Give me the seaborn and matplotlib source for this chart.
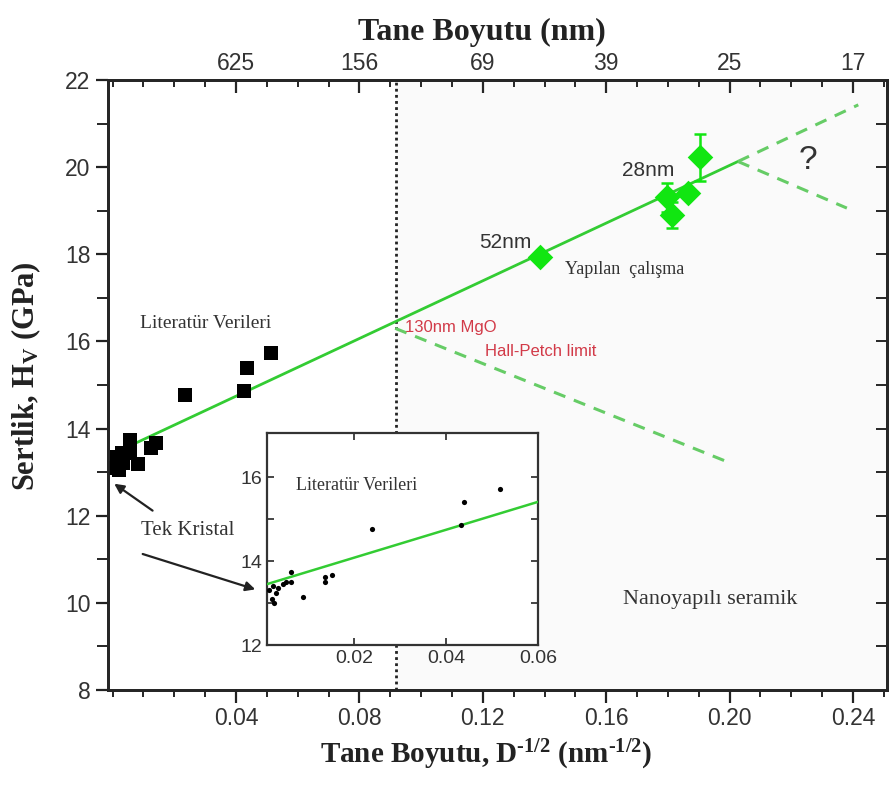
import numpy as np
import pandas as pd
import matplotlib
matplotlib.use("Agg")
import matplotlib.pyplot as plt
import seaborn as sns

# ---------------- data ----------------
# literature data (black squares), x = D^-1/2 (nm^-1/2), y = hardness (GPa)
lit_x = [0.0010, 0.0015, 0.0020, 0.0025, 0.0030, 0.0035, 0.0045, 0.0057, 0.0058,
         0.0083, 0.0125, 0.0140, 0.0235, 0.0426, 0.0436, 0.0514]
lit_y = [13.10, 13.35, 13.05, 13.25, 13.45, 13.20, 13.45, 13.74, 13.50,
         13.18, 13.55, 13.68, 14.77, 14.86, 15.39, 15.73]

# inset literature data
ins_x = [0.0015, 0.0020, 0.0022, 0.0025, 0.0030, 0.0035, 0.0045, 0.0052, 0.0063,
         0.0063, 0.0089, 0.0137, 0.0137, 0.0152, 0.0239, 0.0433, 0.0439, 0.0517]
ins_y = [13.30, 13.10, 13.40, 13.00, 13.25, 13.35, 13.45, 13.50, 13.50,
         13.74, 13.15, 13.50, 13.62, 13.67, 14.76, 14.86, 15.41, 15.72]

# this work (green diamonds)
work_x = [0.1386, 0.1797, 0.1813, 0.1866, 0.1904]
work_y = [17.94, 19.31, 18.90, 19.41, 20.23]
work_err = [0.00, 0.33, 0.30, 0.12, 0.54]

# Hall-Petch fit line
fit_x = [0.0079, 0.2027]
fit_y = [13.68, 20.13]
# dashed extrapolations
up_x = [0.2027, 0.2417]
up_y = [20.13, 21.43]
down_x = [0.2027, 0.2380]
down_y = [20.13, 19.06]
hp_x = [0.0916, 0.1995]
hp_y = [16.30, 13.23]
# inset fit line
ins_fit_x = [0.001, 0.060]
ins_fit_y = [13.45, 15.41]

limit_x = 0.092

bottom_ticks = [0.04, 0.08, 0.12, 0.16, 0.20, 0.24]
bottom_labels = ["0.04", "0.08", "0.12", "0.16", "0.20", "0.24"]
top_labels = ["625", "156", "69", "39", "25", "17"]
y_ticks = [8, 10, 12, 14, 16, 18, 20, 22]
inset_xticks = [0.02, 0.04, 0.06]
inset_xlabels = ["0.02", "0.04", "0.06"]
inset_yticks = [12, 14, 16]

# ---------------- style ----------------
sns.set_style("ticks")
plt.rcParams['font.family'] = ['Liberation Sans', 'DejaVu Sans']
plt.rcParams['mathtext.fontset'] = 'custom'
plt.rcParams['mathtext.rm'] = 'Liberation Serif:bold'
plt.rcParams['mathtext.bf'] = 'Liberation Serif:bold'
plt.rcParams['mathtext.it'] = 'Liberation Serif:bold'

GREEN_LINE = '#33cc33'
GREEN_DASH = '#66cc66'
GREEN_PT = '#11e611'
TXT = '#333333'
RED = '#d23a48'
SERIF = 'Liberation Serif'

fig = plt.figure(figsize=(8.9, 7.89), dpi=100)
ax = fig.add_axes([0.1213, 0.1255, 0.8753, 0.7731])
ax.set_facecolor('white')

ax.axvspan(limit_x, 0.251, color='#fafafa', zorder=0, lw=0)
ax.axvline(limit_x, color='#222222', ls=(0, (1, 1.2)), lw=2, zorder=1)

sns.lineplot(x=fit_x, y=fit_y, ax=ax, color=GREEN_LINE, lw=2.0, zorder=3)
for xs, ys in [(up_x, up_y), (down_x, down_y), (hp_x, hp_y)]:
    sns.lineplot(x=xs, y=ys, ax=ax, color=GREEN_DASH, lw=2.2, ls=(0, (4, 3)), zorder=3)

sns.scatterplot(x=lit_x, y=lit_y, ax=ax, marker='s', s=100, color='black',
                edgecolor='black', linewidth=0, zorder=4)
ax.errorbar(work_x, work_y, yerr=work_err, fmt='none', ecolor=GREEN_PT,
            elinewidth=1.8, capsize=4, capthick=1.8, zorder=4)
sns.scatterplot(x=work_x, y=work_y, ax=ax, marker='D', s=170, color=GREEN_PT,
                edgecolor=GREEN_PT, linewidth=0, zorder=5)

ax.set_xlim(-0.0015, 0.251)
ax.set_ylim(8, 22)
ax.set_xticks(bottom_ticks)
ax.set_xticklabels(bottom_labels)
ax.set_xticks(np.arange(0.0, 0.251, 0.01), minor=True)
ax.set_yticks(y_ticks)
ax.set_yticks(np.arange(9, 22, 2), minor=True)
ax.tick_params(axis='both', which='major', direction='out', length=9, width=1.6,
               labelsize=16.5, colors='#222222', labelcolor='#333333')
ax.tick_params(axis='both', which='minor', direction='out', length=5, width=1.4)
ax.tick_params(axis='y', which='minor', length=8)
for s in ax.spines.values():
    s.set_linewidth(2)
    s.set_color('#222222')

ax.set_xlabel(r'Tane Boyutu, D$^{\text{-1/2}}$ (nm$^{\text{-1/2}}$)', family=SERIF,
              fontweight='bold', fontsize=21, color='#222222')
ax.xaxis.set_label_coords(0.485, -0.078)
ax.set_ylabel(r'Sertlik, H$_{V}$ (GPa)', family=SERIF, fontweight='bold',
              fontsize=22, color='#222222')
ax.yaxis.set_label_coords(-0.083, 0.515)

# top axis
axt = ax.twiny()
axt.set_xlim(ax.get_xlim())
axt.set_xticks(bottom_ticks)
axt.set_xticklabels(top_labels)
axt.set_xticks(np.arange(0.0, 0.251, 0.01), minor=True)
axt.tick_params(axis='x', which='major', direction='in', length=9, width=1.6,
                labelsize=16.5, labelcolor='#333333')
axt.tick_params(axis='x', which='minor', direction='in', length=5, width=1.4)
axt.set_xlabel('Tane Boyutu (nm)', family=SERIF, fontweight='bold', fontsize=23,
               color='#222222')
axt.xaxis.set_label_coords(0.48, 1.066)
for s in axt.spines.values():
    s.set_linewidth(2)

# right ticks inward
axr = ax.twinx()
axr.set_ylim(ax.get_ylim())
axr.set_yticks(y_ticks)
axr.set_yticks(np.arange(9, 22, 2), minor=True)
axr.tick_params(axis='y', which='both', direction='in', length=8, width=1.4,
                labelright=False)

# annotations
ax.text(0.1736, 19.93, '28nm', ha='center', va='center', fontsize=15, color=TXT)
ax.text(0.1272, 18.26, '52nm', ha='center', va='center', fontsize=15, color=TXT)
ax.text(0.166, 17.64, 'Yapılan  çalışma', ha='center', va='center', fontsize=13,
        family=SERIF, color=TXT)
ax.text(0.030, 16.42, 'Literatür Verileri', ha='center', va='center', fontsize=14,
        family=SERIF, color=TXT)
ax.text(0.0948, 16.33, '130nm MgO', ha='left', va='center', fontsize=12, color=RED)
ax.text(0.1207, 15.76, 'Hall-Petch limit', ha='left', va='center', fontsize=12, color=RED)
ax.text(0.2254, 20.16, '?', ha='center', va='center', fontsize=24, color=TXT)
ax.text(0.1937, 10.07, 'Nanoyapılı seramik', ha='center', va='center', fontsize=16,
        family=SERIF, color=TXT)
ax.text(0.0245, 11.67, 'Tek Kristal', ha='center', va='center', fontsize=15,
        family=SERIF, color=TXT)
ax.annotate('', xy=(-0.0002, 12.77), xytext=(0.0137, 12.08),
            arrowprops=dict(arrowstyle='-|>', color='#222222', lw=1.6, mutation_scale=14))
ax.annotate('', xy=(0.0471, 10.29), xytext=(0.0089, 11.14),
            arrowprops=dict(arrowstyle='-|>', color='#222222', lw=1.6, mutation_scale=14))
ax.text(0.0705, 13.71, '2.5µm', ha='center', va='center', fontsize=13, color=TXT)
ax.text(0.0980, 13.71, '625nm', ha='center', va='center', fontsize=13, color=TXT)
ax.text(0.1262, 13.71, '278nm', ha='center', va='center', fontsize=13, color=TXT)

# inset
axi = fig.add_axes([0.300, 0.1825, 0.3045, 0.2687])
axi.set_facecolor('white')
sns.lineplot(x=ins_fit_x, y=ins_fit_y, ax=axi, color=GREEN_LINE, lw=1.8, zorder=3)
sns.scatterplot(x=ins_x, y=ins_y, ax=axi, marker='o', s=14, color='black',
                linewidth=0, zorder=4)
axi.set_xlim(0.001, 0.06)
axi.set_ylim(12, 17.05)
axi.set_xticks(inset_xticks)
axi.set_xticklabels(inset_xlabels)
axi.set_yticks(inset_yticks)
axi.set_yticks([13, 15], minor=True)
axi.tick_params(axis='both', which='both', direction='in', length=5, width=1.2,
                top=True, right=True, labelsize=14, labelcolor='#333333')
for s in axi.spines.values():
    s.set_linewidth(1.6)
    s.set_color('#333333')
axi.text(0.0204, 15.81, 'Literatür Verileri', ha='center', va='center', fontsize=13,
         family=SERIF, color=TXT)

fig.savefig('out.png', dpi=100)
